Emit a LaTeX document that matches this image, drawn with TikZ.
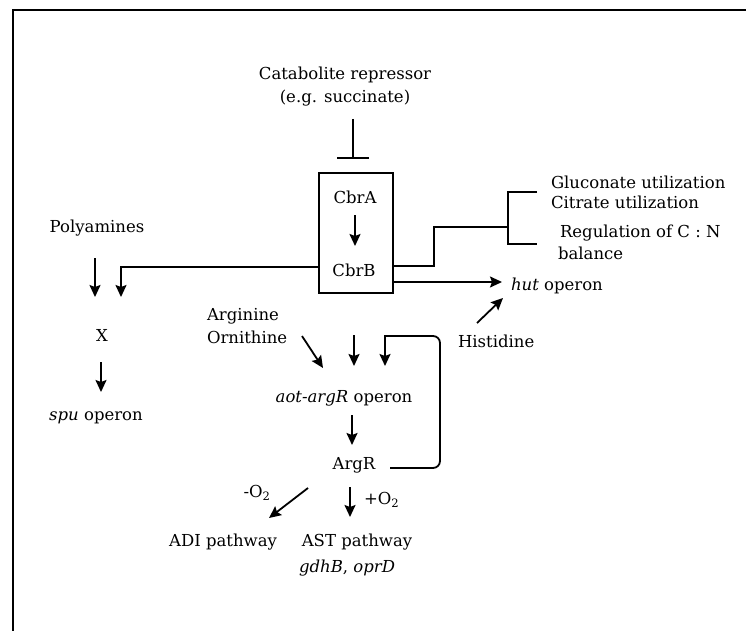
\documentclass[tikz,border=0pt]{standalone}
\usepackage{fontspec}
\setmainfont{DejaVu Serif}
\usetikzlibrary{arrows.meta,calc}
\begin{document}
\begin{tikzpicture}[x=1pt,y=-1pt,
  txt/.style={inner sep=0pt, outer sep=0pt, font=\fontsize{16.5}{23}\selectfont},
  arr/.style={line width=1.8pt, -{Stealth[length=12pt,width=11pt,inset=2pt]}},
  rarr/.style={line width=1.8pt, {Stealth[length=12pt,width=11pt,inset=2pt]}-},
  ln/.style={line width=1.8pt},
  inh/.style={line width=1.8pt, -{Bar[width=32pt,line width=1.8pt]}},
  ]
\useasboundingbox (0,0) rectangle (746,631);
\draw[line width=2pt] (746,10) -- (13,10) -- (13,631);

\node[txt, align=center] (cat) at (345,87) {Catabolite repressor\\(e.g. succinate)};
\node[draw, line width=1.8pt, minimum width=74pt, minimum height=120pt, inner sep=0pt, outer sep=0pt] (cbrbox) at (356,233) {};
\node[txt] (cbrA) at (355,197) {CbrA};
\node[txt] (cbrB) at (354,270) {CbrB};
\node[txt] (poly) at (97,228) {Polyamines};
\node[txt] (X) at (102,335) {X};
\node[txt] (spu) at (96,418) {\textit{spu} operon};
\node[txt, anchor=west] (glu) at (551,182) {Gluconate utilization};
\node[txt, anchor=west] (cit) at (551,202) {Citrate utilization};
\node[txt, anchor=west] (reg) at (560,233) {Regulation of C : N};
\node[txt, anchor=west] (bal) at (558,253) {balance};
\node[txt, anchor=west] (hut) at (511,286) {\textit{hut} operon};
\node[txt, anchor=west] (his) at (458,341) {Histidine};
\node[txt, anchor=west, align=left] (argorn) at (207,326) {Arginine\\Ornithine};
\node[txt] (aot) at (344,398) {\textit{aot-argR} operon};
\node[txt] (argr) at (354,465) {ArgR};
\node[txt] (mo2) at (257,493) {-O\textsubscript{2}};
\node[txt, anchor=west] (po2) at (364,500) {+O\textsubscript{2}};
\node[txt, anchor=east] (adi) at (277,542) {ADI pathway};
\node[txt] (ast) at (357,542) {AST pathway};
\node[txt, anchor=west] (gdh) at (299,568) {\textit{gdhB}, \textit{oprD}};

% inhibition
\draw[inh] ($(cat)+(8,32)$) -- ($(cbrbox.north)+(-3,-14)$);
% CbrA -> CbrB
\draw[arr] ($(cbrA)+(0,18)$) -- ($(cbrB)+(1,-24)$);
% Polyamines -> X
\draw[arr] ($(poly)+(-2,30)$) -- ($(X)+(-7,-38)$);
% CbrB -> X
\draw[arr] ($(cbrbox.west)+(0,34)$) -| ($(X)+(19,-38)$);
% X -> spu
\draw[arr] ($(X)+(-1,27)$) -- ($(spu)+(5,-26)$);
% CbrB -> regulation bracket
\draw[ln] ($(cbrbox.east)+(0,33)$) -| ($(cbrbox.east)+(41,-6)$) -- ($(glu.west)+(-43,45)$);
\draw[ln] ($(glu.west)+(-14,10)$) -| ($(reg.west)+(-52,11)$) -- ($(reg.west)+(-23,11)$);
% CbrB -> hut
\draw[arr] ($(cbrbox.east)+(0,49)$) -- ($(hut.west)+(-9,-4)$);
% Histidine -> hut
\draw[arr] ($(his.west)+(19,-18)$) -- ($(hut.west)+(-8,12)$);
% Arginine/Ornithine -> aot
\draw[arr] ($(argorn.west)+(95,10)$) -- ($(aot)+(-21,-30)$);
% middle arrow
\draw[arr] ($(aot)+(10,-63)$) -- ($(aot)+(10,-32)$);
% ArgR loop back (drawn from the tip end)
\draw[rarr] ($(aot)+(41,-32)$) -- ($(aot)+(41,-62)$) [rounded corners=7pt] -| ($(argr)+(86,3)$) -- ($(argr)+(36,3)$);
% aot -> ArgR
\draw[arr] ($(aot)+(8,17)$) -- ($(argr)+(-2,-20)$);
% ArgR -> ADI
\draw[arr] ($(argr)+(-46,23)$) -- ($(adi.east)+(-8,-24)$);
% ArgR -> AST
\draw[arr] ($(argr)+(-4,22)$) -- ($(ast)+(-7,-25)$);
\end{tikzpicture}
\end{document}
